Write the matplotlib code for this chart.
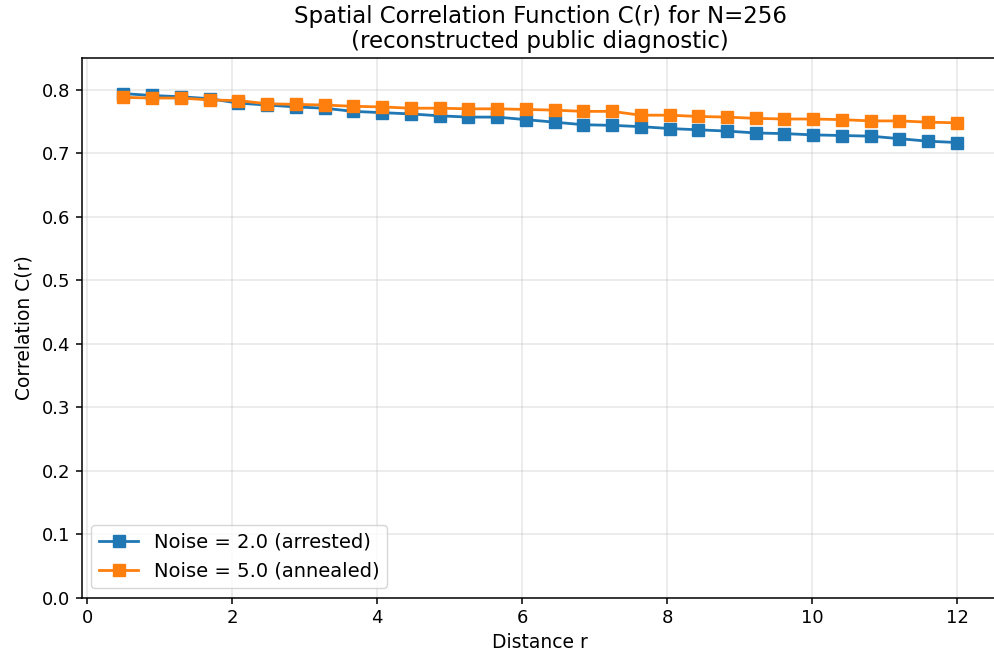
import matplotlib

matplotlib.use("Agg")

import matplotlib.pyplot as plt
import numpy as np

# distances r (30 bins from 0.5 to 12)
r = np.linspace(0.5, 12, 30)

corr_arrested = [
    0.794, 0.791, 0.789, 0.786, 0.779, 0.776, 0.773, 0.771, 0.766, 0.764,
    0.762, 0.759, 0.757, 0.757, 0.753, 0.749, 0.745, 0.744, 0.742, 0.739,
    0.737, 0.735, 0.732, 0.731, 0.729, 0.728, 0.727, 0.723, 0.719, 0.717,
]
corr_annealed = [
    0.788, 0.787, 0.787, 0.784, 0.783, 0.778, 0.777, 0.776, 0.774, 0.773,
    0.771, 0.771, 0.770, 0.770, 0.769, 0.768, 0.766, 0.766, 0.760, 0.760,
    0.758, 0.757, 0.755, 0.754, 0.754, 0.753, 0.751, 0.751, 0.749, 0.748,
]
labels = ["Noise = 2.0 (arrested)", "Noise = 5.0 (annealed)"]

plt.rcParams["axes.linewidth"] = 1.1
plt.rcParams["xtick.major.width"] = 1.1
plt.rcParams["ytick.major.width"] = 1.1
plt.rcParams["xtick.major.size"] = 4.5
plt.rcParams["ytick.major.size"] = 4.5

fig = plt.figure(figsize=(9.94, 6.57), dpi=100)
ax = fig.add_axes([0.0821, 0.0898, 0.9226, 0.8219])

ax.plot(r, corr_arrested, marker="s", markersize=8, linewidth=2, color="#1f77b4", label=labels[0])
ax.plot(r, corr_annealed, marker="s", markersize=8, linewidth=2, color="#ff7f0e", label=labels[1])

ax.set_ylim(0, 0.85)
ax.set_xlabel("Distance r", fontsize=13.5)
ax.set_ylabel("Correlation C(r)", fontsize=13.5, labelpad=6)
ax.set_title("Spatial Correlation Function C(r) for N=256\n(reconstructed public diagnostic)",
             fontsize=16.5, linespacing=1.15, pad=7)
ax.tick_params(labelsize=13)
ax.grid(True, alpha=0.3, linewidth=1.1)
ax.legend(loc="lower left", fontsize=14)

fig.savefig("out.png", dpi=100)
plt.close(fig)
